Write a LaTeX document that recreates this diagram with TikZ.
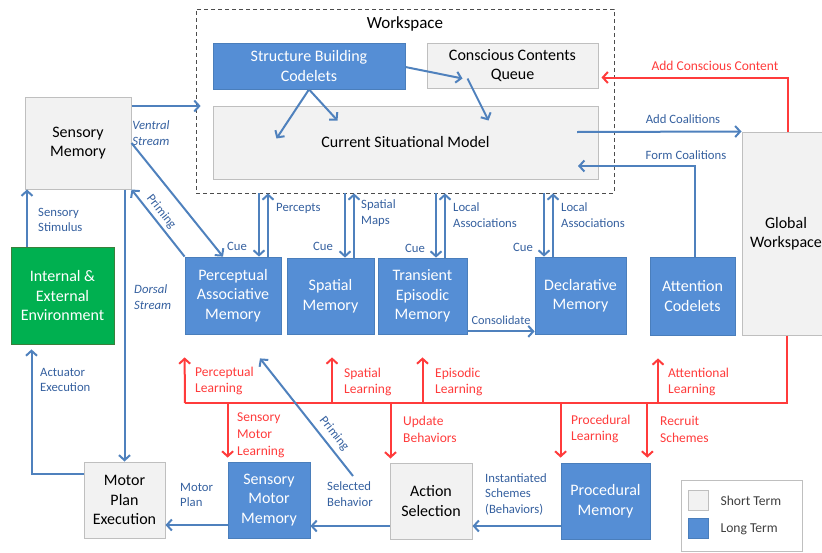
\documentclass[tikz,border=0pt]{standalone}
\usepackage{fontspec}
\setmainfont{Carlito}
\usepackage{xcolor}
\usetikzlibrary{arrows.meta}
\definecolor{ltmblue}{HTML}{558ED5}
\definecolor{ltmedge}{HTML}{4A7EBB}
\definecolor{stmgray}{HTML}{F2F2F2}
\definecolor{stmedge}{HTML}{BFBFBF}
\definecolor{envgreen}{HTML}{00B050}
\definecolor{envedge}{HTML}{3B7F3B}
\definecolor{linkblue}{HTML}{4F81BD}
\definecolor{labelblue}{HTML}{35609F}
\definecolor{learnred}{HTML}{FF3B3B}
\definecolor{keytext}{HTML}{404040}

\begin{document}
\begin{tikzpicture}[x=1pt, y=-1pt,
        boxsize/.style 2 args={minimum width=#1, minimum height=#2},
        ltm/.style={draw=ltmedge, fill=ltmblue, text=white, line width=0.8pt, align=center, inner sep=2pt, font=\fontsize{16}{19.5}\selectfont},
        stm/.style={draw=stmedge, fill=stmgray, text=black, line width=1pt, align=center, inner sep=2pt, font=\fontsize{16}{19.5}\selectfont},
        envbox/.style={draw=envedge, fill=envgreen, text=white, line width=0.8pt, align=center, inner sep=2pt, font=\fontsize{16}{19.5}\selectfont},
        conn/.style={draw=linkblue, line width=2pt, -{Straight Barb[length=5pt,width=11pt]}},
        redconn/.style={draw=learnred, line width=2pt, -{Straight Barb[length=5pt,width=11pt]}},
        redline/.style={draw=learnred, line width=2pt},
        lbl/.style={text=labelblue, font=\fontsize{12.7}{15.5}\selectfont, align=left, inner sep=0pt},
        redlbl/.style={text=learnred, font=\fontsize{13.5}{16.8}\selectfont, align=left, inner sep=0pt}]
    \useasboundingbox (0,0) rectangle (822,552);

    \node[draw=black!70, dashed, dash pattern=on 4pt off 3pt, line width=0.8pt, boxsize={418}{184}] (ws) at (405,101) {};
    \node[font=\fontsize{17}{20}\selectfont] (wstitle) at (405,24) {Workspace};
    \node[ltm, boxsize={192}{46}] (sbc) at (309,66) {Structure Building\\Codelets};
    \node[stm, boxsize={171}{45}] (ccq) at (512.5,65.5) {Conscious Contents\\Queue};
    \node[stm, boxsize={385}{73}] (csm) at (405.5,142.5) {Current Situational Model};

    \node[stm, boxsize={106}{92}] (sm) at (78,143) {Sensory\\Memory};
    \node[envbox, boxsize={103}{97}] (env) at (62.5,295.5) {Internal \&\\External\\Environment};
    \node[ltm, boxsize={96}{77}] (pam) at (233,295.5) {Perceptual\\Associative\\Memory};
    \node[ltm, boxsize={87}{76}] (spm) at (330.5,296) {Spatial\\Memory};
    \node[ltm, boxsize={89}{76}] (tem) at (422.5,296) {Transient\\Episodic\\Memory};
    \node[ltm, boxsize={91}{77}] (dm) at (580.5,295.5) {Declarative\\Memory};
    \node[ltm, boxsize={85}{78}] (ac) at (692.5,296) {Attention\\Codelets};
    \node[stm, boxsize={88}{203}] (gw) at (786,233.5) {Global\\Workspace};

    \node[stm, boxsize={81}{76}] (mpe) at (124.5,500) {Motor\\Plan\\Execution};
    \node[ltm, boxsize={82}{76}] (smm) at (269,500) {Sensory\\Motor\\Memory};
    \node[stm, boxsize={82}{76}] (as) at (431,501) {Action\\Selection};
    \node[ltm, boxsize={89}{76}] (pm) at (605.5,501) {Procedural\\Memory};

    \draw[conn] ([yshift=37pt]sm.east) -- ([xshift=5pt,yshift=37pt]sm.east -| ws.west);
    \node[lbl, font=\fontsize{12.7}{15.5}\selectfont\itshape] (ventral) at (151,133) {Ventral\\Stream};
    \draw[conn] (sm.east) -- ([xshift=-10pt]pam.north);
    \draw[conn] (pam.north west) -- node[lbl, sloped, above=3pt, pos=0.58] (priming1) {Priming} (sm.south east);
    \draw[conn] ([xshift=-35.5pt]env.north) -- ([xshift=-35.5pt]env.north |- sm.south);
    \node[lbl, anchor=west] (stimulus) at (38,220) {Sensory\\Stimulus};
    \draw[conn] (mpe.north |- sm.south) -- (mpe.north);
    \node[lbl, anchor=west, font=\fontsize{12.7}{15.5}\selectfont\itshape] (dorsal) at (134,297) {Dorsal\\Stream};
    \draw[conn] ([yshift=26pt]mpe.west) -| ([xshift=-31pt,yshift=-5pt]env.south);
    \node[lbl, anchor=west] (actuator) at (40,380) {Actuator\\Execution};

    \draw[conn] (sbc.south) -- ([shift={(-129,-4)}]csm.center);
    \draw[conn] (sbc.south) -- ([shift={(-68,-22)}]csm.center);
    \draw[conn] ([yshift=-1pt]sbc.east) -- ([shift={(-50,13)}]ccq.center);
    \draw[conn] ([shift={(-45,13)}]ccq.center) -- ([shift={(83,-22)}]csm.center);

    \draw[conn] ([shift={(171.5,-10.5)}]csm.center) -- (gw.north west);
    \node[lbl] (addcoal) at (683,119) {Add Coalitions};
    \draw[conn] ([xshift=2pt]ac.north) |- ([shift={(172.5,23.5)}]csm.center);
    \node[lbl] (formcoal) at (686,155) {Form Coalitions};
    \draw[redconn] ([xshift=2pt]gw.north) |- ([shift={(3,12)}]ccq.east);
    \node[redlbl] (addcons) at (715,66) {Add Conscious Content};

    \draw[conn] ([xshift=26pt]pam.north |- ws.south) -- ([xshift=26pt]pam.north);
    \draw[conn] ([xshift=35pt]pam.north) -- ([xshift=35pt]pam.north |- ws.south);
    \node[lbl] (cue1) at (237,246) {Cue};
    \node[lbl, anchor=west] (percepts) at (276,208) {Percepts};
    \draw[conn] ([xshift=14.5pt]spm.north |- ws.south) -- ([xshift=14.5pt]spm.north);
    \draw[conn] ([xshift=23.5pt]spm.north) -- ([xshift=23.5pt]spm.north |- ws.south);
    \node[lbl] (cue2) at (323,246) {Cue};
    \node[lbl, anchor=west] (spmaps) at (361,213) {Spatial\\Maps};
    \draw[conn] ([xshift=13.5pt]tem.north |- ws.south) -- ([xshift=13.5pt]tem.north);
    \draw[conn] ([xshift=22.5pt]tem.north) -- ([xshift=22.5pt]tem.north |- ws.south);
    \node[lbl] (cue3) at (415,248) {Cue};
    \node[lbl, anchor=west] (localassoc1) at (453,215) {Local\\Associations};
    \draw[conn] ([xshift=-36.5pt]dm.north |- ws.south) -- ([xshift=-36.5pt]dm.north);
    \draw[conn] ([xshift=-27.5pt]dm.north) -- ([xshift=-27.5pt]dm.north |- ws.south);
    \node[lbl] (cue4) at (523,247) {Cue};
    \node[lbl, anchor=west] (localassoc2) at (561,215) {Local\\Associations};
    \draw[conn] ([yshift=3pt]tem.south east) -- ([yshift=3pt]tem.south east -| dm.west);
    \node[lbl, font=\fontsize{12.3}{14}\selectfont] (consolidate) at (501,320) {Consolidate};

    \coordinate (busL) at (185,403);
    \draw[redline] ([xshift=1pt]gw.south) |- (busL);
    \draw[redconn] (busL) -- ([yshift=-23pt]pam.south west);
    \node[redlbl, anchor=west] (perclearn) at (195,381) {Perceptual\\Learning};
    \draw[redconn] ([xshift=1.5pt]busL -| spm.south) -- ([xshift=1.5pt,yshift=-23pt]spm.south);
    \node[redlbl, anchor=west] (spatlearn) at (344,382) {Spatial\\Learning};
    \draw[redconn] (busL -| tem.south) -- ([yshift=-23pt]tem.south);
    \node[redlbl, anchor=west] (epilearn) at (435,382) {Episodic\\Learning};
    \draw[redconn] ([xshift=-34.5pt]busL -| ac.south) -- ([xshift=-34.5pt,yshift=-23pt]ac.south);
    \node[redlbl, anchor=west] (attnlearn) at (668,382) {Attentional\\Learning};
    \draw[redconn] (busL -| smm.north west) -- ([yshift=4pt]smm.north west);
    \node[redlbl, anchor=west] (smlearn) at (237,435) {Sensory\\Motor\\Learning};
    \draw[redconn] ([xshift=1pt]busL -| as.north west) -- ([xshift=1pt,yshift=4pt]as.north west);
    \node[redlbl, anchor=west] (updbeh) at (403,429) {Update\\Behaviors};
    \draw[redconn] (busL -| pm.north west) -- ([yshift=5pt]pm.north west);
    \node[redlbl, anchor=west] (proclearn) at (571,429) {Procedural\\Learning};
    \draw[redconn] ([xshift=-3pt]busL -| pm.north east) -- ([xshift=-3pt,yshift=5pt]pm.north east);
    \node[redlbl, anchor=west] (recruit) at (660,429) {Recruit\\Schemes};

    \coordinate (primestart) at (353,476);
    \draw[conn] (primestart) -- node[lbl, sloped, above=5pt, pos=0.3] (priming2) {Priming} ([shift={(27,24)}]pam.south);
    \draw[conn] ([yshift=-25pt]as.west) -- ([yshift=-25pt]as.west -| smm.east);
    \node[lbl, anchor=west] (selbeh) at (327,494) {Selected\\Behavior};
    \draw[conn] ([yshift=-25pt]smm.west) -- ([yshift=-25pt]smm.west -| mpe.east);
    \node[lbl, anchor=west] (motorplan) at (180,495) {Motor\\Plan};
    \draw[conn] ([yshift=-25pt]pm.west) -- ([yshift=-25pt]pm.west -| as.east);
    \node[lbl, anchor=west] (instsch) at (485,494) {Instantiated\\Schemes\\(Behaviors)};

    \node[draw=stmedge, fill=white, line width=1pt, boxsize={121}{71}] (legend) at (741.5,515.5) {};
    \node[stm, minimum size=20] (stkey) at (698.5,500) {};
    \node[ltm, minimum size=20] (ltkey) at (698.5,528.5) {};
    \node[anchor=west, text=keytext, font=\fontsize{13.6}{16}\selectfont] (sttext) at (717,501) {Short Term};
    \node[anchor=west, text=keytext, font=\fontsize{13.6}{16}\selectfont] (lttext) at (717,529) {Long Term};
\end{tikzpicture}
\end{document}
